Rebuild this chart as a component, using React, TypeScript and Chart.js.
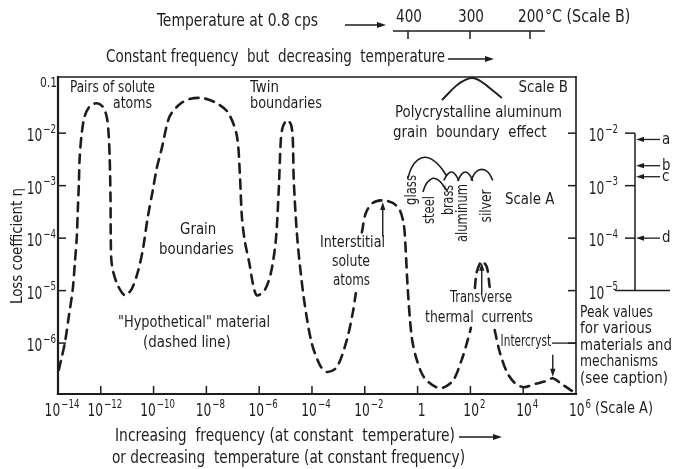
import React, { useEffect, useRef } from 'react';
import { Chart, registerables } from 'chart.js';

Chart.register(...registerables);

const FONT = '"Liberation Sans Narrow", "DejaVu Sans Condensed", "Noto Sans", sans-serif';
const INK = '#1d1d1d';

// ---- Scale A: axes are log10(frequency, cps) and log10(loss coefficient) ----
const freqExpMin = -13.62;
const freqExpMax = 6;
const lossExpMin = -6.97;
const lossExpMax = -0.93;

const xTickExps = [-14, -12, -10, -8, -6, -4, -2, 0, 2, 4, 6];
const xTickLabels = ['10^−14', '10^−12', '10^−10', '10^−8', '10^−6', '10^−4', '10^−2', '1', '10^2', '10^4', '10^6'];
const yTickExps = [-1, -2, -3, -4, -5, -6];
const yTickLabels = ['0.1', '10^−2', '10^−3', '10^−4', '10^−5', '10^−6'];

// "Hypothetical" material (dashed line); null = curve hidden behind a label
const curveFreqExp = [
  -13.59, -13.48, -13.36, -13.21, -13.06, -12.98, -12.91, -12.87, -12.83, -12.8, -12.72, -12.61, -12.42, -12.15,
  -11.92, -11.77, -11.7, -11.66, -11.63, -11.62, -11.58, -11.39, -11.09, -10.83, -10.6, -10.41, -10.22, -10.03,
  -9.88, -9.69, -9.39, -9.01, -8.64, -8.17, -7.68, -7.19, -6.85, -6.73, -6.66, -6.55, -6.36, -6.24, -6.09,
  -5.79, -5.56, -5.37, -5.26, -5.18, -5.11, -4.95, -4.8, -4.73, -4.69, -4.58, -4.46, -4.27, -4.01, -3.7, -3.44,
  -3.06, -2.68, -2.45, -2.34, -2.22, -2.11, -1.96, -1.7, -1.32, -0.94, -0.67, -0.52, -0.45, -0.37, -0.22, -0.03,
  0.27, 0.84, 1.33, 1.67, 1.9, 2.02, 2.1, 2.17, 2.24, 2.43, 2.62, 2.73, 2.82, 2.92, 3.11, 3.38, 3.68, 4.02,
  4.44, 4.89, 5.12, 5.46, 5.84,
];
const curveLossExp = [
  -6.51, -6.27, -6.0, -5.49, -4.97, -4.46, -4.0, -3.47, -2.97, -2.48, -2.0, -1.68, -1.49, -1.43,
  -1.5, -1.7, -2.04, -2.51, -3.28, -4.04, -4.51, -4.86, -5.09, -4.97, -4.65, -4.23, -3.6, -3.09,
  -2.67, -2.29, -1.68, -1.45, -1.35, -1.33, -1.41, -1.6, -2.04, -2.8, -3.56, -4.04, -4.51, -4.86, -5.09,
  -4.99, -4.67, -4.04, -3.09, -2.13, -1.89, -1.75, -1.83, -2.08, -2.9, -3.85, -4.51, -5.28, -6.0, -6.42, -6.55,
  -6.46, -5.94, -5.41, -5.05, null, -3.89, -3.52, -3.33, -3.28, -3.33, -3.47, -3.75, -4.23, -4.99, -5.89, -6.32,
  -6.67, -6.86, -6.72, -6.32, -5.94, -5.71, null, -4.95, -4.65, -4.44, -4.55, -4.93, null, -5.75, -6.17, -6.55, -6.76, -6.84,
  -6.78, -6.72, -6.67, -6.78, -6.91,
];

// Polycrystalline aluminum grain boundary effect (Scale B)
const alFreqExp = [0.92, 1.48, 1.79, 2.09, 2.39, 2.73, 3.19];
const alLossExp = [-1.37, -1.09, -0.99, -0.95, -1.01, -1.14, -1.33];

// Peak shapes of glass, steel, brass, aluminum, silver
const glassFreqExp = [-0.37, -0.22, 0.01, 0.27, 0.54, 0.84, 1.11];
const glassLossExp = [-2.86, -2.65, -2.51, -2.46, -2.5, -2.63, -2.82];
const steelFreqExp = [0.2, 0.35, 0.58, 0.8, 0.99, 1.14];
const steelLossExp = [-3.12, -2.95, -2.86, -2.9, -3.01, -3.12];
const brassFreqExp = [0.99, 1.14, 1.3, 1.45, 1.56];
const brassLossExp = [-2.9, -2.78, -2.74, -2.8, -2.91];
const aluminumFreqExp = [1.52, 1.67, 1.83, 1.98, 2.09];
const aluminumLossExp = [-2.91, -2.78, -2.74, -2.8, -2.91];
const silverFreqExp = [2.02, 2.21, 2.43, 2.66, 2.85];
const silverLossExp = [-2.9, -2.74, -2.69, -2.74, -2.9];

// Peak values for various materials (right-hand scale)
const peakScaleExps = [-2, -3, -4, -5];
const peakScaleLabels = ['10^−2', '10^−3', '10^−4', '10^−5'];
const peakMarkExps = [-2.12, -2.62, -2.83, -4.0];
const peakMarkLabels = ['a', 'b', 'c', 'd'];

// Temperature at 0.8 cps (Scale B)
const tempTickLabels = ['400', '300', '200'];

// ---------- layout (pixels / annotation placement) ----------
const PAD = { left: 58, right: 102, top: 77, bottom: 75 };
const TEMP_AXIS = { x0: 393, x1: 545, y: 31, ticks: [408, 470, 530] };
const PEAK_AXIS_X = 635;
const TICK_SQUEEZE = 0.8;

type Lbl = { t: string; x: number; y: number; w: number; s: number; a?: string };
const labels: Lbl[] = [
  { t: 'Temperature at 0.8 cps', x: 157, y: 22, w: 161, s: 17 },
  { t: 'Constant frequency  but  decreasing  temperature', x: 106, y: 58, w: 339, s: 17 },
  { t: 'Pairs of solute', x: 70, y: 88, w: 85, s: 16 },
  { t: 'atoms', x: 113, y: 104, w: 39, s: 16 },
  { t: 'Twin', x: 250, y: 88, w: 32, s: 16 },
  { t: 'boundaries', x: 250, y: 104, w: 72, s: 16 },
  { t: 'Grain', x: 180, y: 230, w: 38, s: 16 },
  { t: 'boundaries', x: 159, y: 250, w: 78, s: 16 },
  { t: '"Hypothetical" material', x: 118, y: 323, w: 152, s: 16 },
  { t: '(dashed line)', x: 143, y: 343, w: 95, s: 16 },
  { t: 'Interstitial', x: 320, y: 243, w: 65, s: 16 },
  { t: 'solute', x: 332, y: 262, w: 38, s: 16 },
  { t: 'atoms', x: 333, y: 281, w: 37, s: 16 },
  { t: 'Scale B', x: 568, y: 88, w: 51, s: 16, a: 'r' },
  { t: 'Polycrystalline aluminum', x: 395, y: 113, w: 167, s: 16 },
  { t: 'grain  boundary  effect', x: 393, y: 133, w: 160, s: 16 },
  { t: 'Scale A', x: 505, y: 200, w: 50, s: 16 },
  { t: 'Transverse', x: 450, y: 298, w: 62, s: 16 },
  { t: 'thermal  currents', x: 425, y: 318, w: 108, s: 16 },
  { t: 'Intercryst', x: 551, y: 342, w: 46, s: 15, a: 'r' },
  { t: 'Peak values', x: 580, y: 313, w: 73, s: 16 },
  { t: 'for various', x: 580, y: 329, w: 72, s: 16 },
  { t: 'materials and', x: 580, y: 346, w: 92, s: 16 },
  { t: 'mechanisms', x: 580, y: 362, w: 78, s: 16 },
  { t: '(see caption)', x: 580, y: 379, w: 93, s: 16 },
  { t: 'Increasing  frequency (at constant  temperature)', x: 115, y: 437, w: 340, s: 17 },
  { t: 'or decreasing  temperature (at constant frequency)', x: 112, y: 459, w: 353, s: 17 },
];
const vLabels = [
  { t: 'Loss coefficient η', x: 18, y: 246, w: 126, s: 16 },
  { t: 'glass', x: 412, y: 190, w: 30, s: 15 },
  { t: 'steel', x: 430, y: 210, w: 28, s: 15 },
  { t: 'brass', x: 449, y: 200, w: 30, s: 15 },
  { t: 'aluminum', x: 463, y: 213, w: 58, s: 15 },
  { t: 'silver', x: 487, y: 206, w: 33, s: 15 },
];
// arrows placed in data (scale A) coordinates: x, from-y, to-y
const plotArrows = [
  { x: -1.32, from: -3.97, to: -3.31 },
  { x: 2.43, from: -5.07, to: -4.47 },
  { x: 5.12, from: -6.22, to: -6.64 },
];

function drawLabel(ctx: CanvasRenderingContext2D, t: string, x: number, y: number, w: number, s: number, align = 'l') {
  ctx.font = `${s}px ${FONT}`;
  const m = ctx.measureText(t).width;
  const k = Math.min(0.93, Math.max(0.78, w / m));
  const lx = align === 'r' ? x - m * k : align === 'c' ? x - (m * k) / 2 : x;
  ctx.save();
  ctx.translate(lx, y);
  ctx.scale(k, 1);
  ctx.textAlign = 'left';
  ctx.textBaseline = 'middle';
  ctx.fillText(t, 0, 0);
  ctx.restore();
  return lx + m * k;
}

function squeezedText(ctx: CanvasRenderingContext2D, t: string, x: number, y: number, k: number) {
  ctx.save();
  ctx.translate(x, y);
  ctx.scale(k, 1);
  ctx.fillText(t, 0, 0);
  ctx.restore();
}

function drawPow(ctx: CanvasRenderingContext2D, label: string, x: number, baseY: number, size: number, align: string, k = TICK_SQUEEZE) {
  const [b, e] = label.split('^');
  const es = Math.round(size * 0.7);
  ctx.font = `${size}px ${FONT}`;
  const wb = ctx.measureText(b).width * k;
  let we = 0;
  if (e) {
    ctx.font = `${es}px ${FONT}`;
    we = ctx.measureText(e).width * k + 1;
  }
  const tot = wb + we;
  const lx = align === 'center' ? x - tot / 2 : align === 'right' ? x - tot : x;
  ctx.textAlign = 'left';
  ctx.textBaseline = 'alphabetic';
  ctx.font = `${size}px ${FONT}`;
  squeezedText(ctx, b, lx, baseY, k);
  if (e) {
    ctx.font = `${es}px ${FONT}`;
    squeezedText(ctx, e, lx + wb + 1, baseY - size * 0.5, k);
  }
  return lx + tot;
}

function line(ctx: CanvasRenderingContext2D, x1: number, y1: number, x2: number, y2: number) {
  ctx.beginPath();
  ctx.moveTo(x1, y1);
  ctx.lineTo(x2, y2);
  ctx.stroke();
}

function arrow(ctx: CanvasRenderingContext2D, x1: number, y1: number, x2: number, y2: number, head = 7) {
  const a = Math.atan2(y2 - y1, x2 - x1);
  const c = Math.cos(a), s = Math.sin(a);
  line(ctx, x1, y1, x2 - c * head * 0.7, y2 - s * head * 0.7);
  ctx.beginPath();
  ctx.moveTo(x2, y2);
  ctx.lineTo(x2 - head * c + head * 0.33 * s, y2 - head * s - head * 0.33 * c);
  ctx.lineTo(x2 - head * c - head * 0.33 * s, y2 - head * s + head * 0.33 * c);
  ctx.closePath();
  ctx.fill();
}

const pts = (xs: number[], ys: (number | null)[]) => xs.map((x, i) => ({ x, y: ys[i] }));

const overlay = {
  id: 'overlay',
  beforeDraw(chart: any) {
    const { ctx, width, height } = chart;
    ctx.save();
    ctx.fillStyle = '#ffffff';
    ctx.fillRect(0, 0, width, height);
    ctx.restore();
  },
  afterDatasetsDraw(chart: any) {
    const ctx: CanvasRenderingContext2D = chart.ctx;
    const xs = chart.scales.x;
    const ys = chart.scales.y;
    const { left, right, top, bottom } = chart.chartArea;
    ctx.save();
    ctx.strokeStyle = INK;
    ctx.fillStyle = INK;
    ctx.lineCap = 'square';

    // frame
    ctx.lineWidth = 2.2;
    line(ctx, left, top, left, bottom);
    line(ctx, left, bottom, right, bottom);
    ctx.lineWidth = 1.6;
    line(ctx, left, top, right, top);
    line(ctx, right, top, right, bottom);

    // inner ticks
    ctx.lineWidth = 1.5;
    ctx.lineCap = 'butt';
    xTickExps.forEach((e) => {
      if (e <= xs.min || e >= xs.max) return;
      const px = xs.getPixelForValue(e);
      line(ctx, px, bottom, px, bottom - 8);
    });
    yTickExps.forEach((e) => {
      if (e <= -1.5) {
        const py = ys.getPixelForValue(e);
        line(ctx, left, py, left + 8, py);
        line(ctx, right - 8, py, right, py);
      }
    });

    // x tick labels
    let lastRight = 0;
    xTickExps.forEach((e, i) => {
      const px = xs.getPixelForValue(Math.max(e, xs.min));
      lastRight = drawPow(ctx, xTickLabels[i], px + 4, bottom + 22, 17, 'center');
    });
    drawLabel(ctx, '(Scale A)', lastRight + 4, bottom + 15, 58, 16);

    // y tick labels
    yTickExps.forEach((e, i) => {
      const py = ys.getPixelForValue(e);
      if (yTickLabels[i].includes('^')) {
        drawPow(ctx, yTickLabels[i], 56, py + 8, 17, 'right');
      } else {
        ctx.font = `14px ${FONT}`;
        ctx.textAlign = 'left';
        ctx.textBaseline = 'middle';
        squeezedText(ctx, yTickLabels[i], 40, py + 3, 0.85);
      }
    });

    // texts
    let interEnd = 0;
    labels.forEach((l) => {
      const end = drawLabel(ctx, l.t, l.x, l.y, l.w, l.s, l.a || 'l');
      if (l.t === 'Intercryst') interEnd = end;
    });
    vLabels.forEach((l) => {
      ctx.save();
      ctx.translate(l.x, l.y);
      ctx.rotate(-Math.PI / 2);
      drawLabel(ctx, l.t, 0, 0, l.w, l.s, 'c');
      ctx.restore();
    });

    // arrows in text
    ctx.lineWidth = 1.4;
    arrow(ctx, 448, 59, 494, 59, 9);
    arrow(ctx, 459, 437, 502, 437, 9);
    arrow(ctx, 345, 25, 386, 25, 9);

    // arrows into plot features
    plotArrows.forEach((a) => {
      const px = xs.getPixelForValue(a.x);
      arrow(ctx, px, ys.getPixelForValue(a.from), px, ys.getPixelForValue(a.to), 8);
    });
    // Intercryst leader to right axis
    ctx.lineWidth = 1.3;
    const y6 = ys.getPixelForValue(-6);
    line(ctx, interEnd + 1, y6, right, y6);

    // Peak-values scale
    const pTop = ys.getPixelForValue(peakScaleExps[0]);
    const pBot = ys.getPixelForValue(peakScaleExps[peakScaleExps.length - 1]);
    ctx.lineWidth = 1.5;
    line(ctx, PEAK_AXIS_X, pTop, PEAK_AXIS_X, pBot);
    peakScaleExps.forEach((e, i) => {
      const py = ys.getPixelForValue(e);
      if (i === peakScaleExps.length - 1) line(ctx, PEAK_AXIS_X - 20, py, PEAK_AXIS_X + 35, py);
      else line(ctx, PEAK_AXIS_X - 10, py, PEAK_AXIS_X, py);
      drawPow(ctx, peakScaleLabels[i], 618, py + 8, 17, 'right');
    });
    ctx.lineWidth = 1.3;
    peakMarkExps.forEach((e, i) => {
      const py = ys.getPixelForValue(e);
      arrow(ctx, 660, py, PEAK_AXIS_X + 1, py, 8);
      drawLabel(ctx, peakMarkLabels[i], 662, py, 9, 16);
    });

    // Temperature scale B
    ctx.lineWidth = 1.5;
    line(ctx, TEMP_AXIS.x0, TEMP_AXIS.y, TEMP_AXIS.x1, TEMP_AXIS.y);
    TEMP_AXIS.ticks.forEach((tx, i) => {
      line(ctx, tx, TEMP_AXIS.y, tx, TEMP_AXIS.y + 8);
      drawLabel(ctx, tempTickLabels[i], tx + 1, 18, 26, 17, 'c');
    });
    drawLabel(ctx, '°C (Scale B)', 545, 18, 95, 17);

    ctx.restore();
  },
};

export default function App() {
  const ref = useRef<HTMLCanvasElement | null>(null);
  useEffect(() => {
    if (!ref.current) return;
    const solid = (xs: number[], ys: number[], w: number) => ({
      data: pts(xs, ys),
      showLine: true,
      borderColor: INK,
      borderWidth: w,
      pointRadius: 0,
      tension: 0.45,
      fill: false,
    });
    const chart = new Chart(ref.current, {
      type: 'scatter',
      data: {
        datasets: [
          {
            data: pts(curveFreqExp, curveLossExp),
            showLine: true,
            borderColor: INK,
            borderWidth: 2.6,
            borderDash: [9, 7],
            borderCapStyle: 'round',
            pointRadius: 0,
            tension: 0.3,
            spanGaps: false,
            fill: false,
          } as any,
          solid(alFreqExp, alLossExp, 1.9),
          solid(glassFreqExp, glassLossExp, 1.6),
          solid(steelFreqExp, steelLossExp, 1.6),
          solid(brassFreqExp, brassLossExp, 1.6),
          solid(aluminumFreqExp, aluminumLossExp, 1.6),
          solid(silverFreqExp, silverLossExp, 1.6),
        ],
      },
      options: {
        responsive: false,
        animation: false,
        devicePixelRatio: 1,
        layout: { padding: PAD },
        plugins: { legend: { display: false }, tooltip: { enabled: false } },
        events: [],
        scales: {
          x: { type: 'linear', min: freqExpMin, max: freqExpMax, display: false },
          y: { type: 'linear', min: lossExpMin, max: lossExpMax, display: false },
        },
      },
      plugins: [overlay],
    });
    return () => chart.destroy();
  }, []);
  return (
    <div style={{ position: 'fixed', left: 0, top: 0, width: 678, height: 469, background: '#fff' }}>
      <canvas ref={ref} width={678} height={469} style={{ display: 'block' }} />
    </div>
  );
}
